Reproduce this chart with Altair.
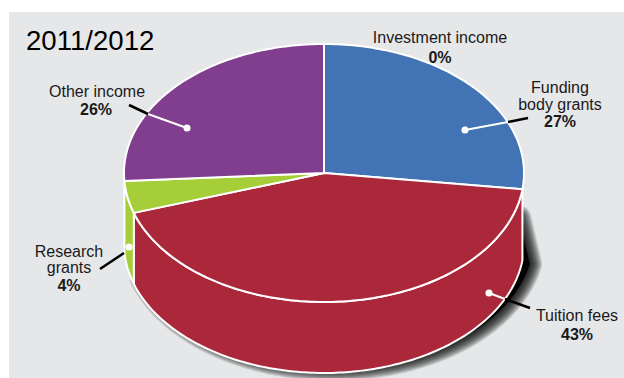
import math
import altair as alt
import pandas as pd

# Income shares for the year, clockwise from twelve o'clock
categories = ["Investment income", "Funding body grants", "Tuition fees", "Research grants", "Other income"]
shares = [0, 27, 43, 4, 26]
year_title = "2011/2012"

colors = {
    "Funding body grants": "#4173B5",
    "Tuition fees": "#AB283B",
    "Research grants": "#A6CE39",
    "Other income": "#813E8E",
}
PANEL = "#E6E7E9"
FONT = "Liberation Sans"

# Drawing geometry of the tilted disc
CX, CY, RX, RY, DEPTH = 324, 173, 200, 129, 71
W, H = 624, 378

xs = alt.X("x:Q", scale=alt.Scale(domain=[0, W], nice=False, zero=False), axis=None)
ys = alt.Y("y:Q", scale=alt.Scale(domain=[H, 0], nice=False, zero=False), axis=None)


def rim(a, drop=0.0, dx=0.0):
    t = math.radians(a)
    return CX + RX * math.sin(t) + dx, CY - RY * math.cos(t) + drop


def arc(a0, a1, drop=0.0, dx=0.0):
    n = max(2, int(abs(a1 - a0)) + 1)
    return [rim(a0 + (a1 - a0) * i / (n - 1), drop, dx) for i in range(n)]


def shape(points, fill=None, stroke="white", width=2.0, opacity=1.0):
    df = pd.DataFrame(points, columns=["x", "y"]).assign(i=range(len(points)))
    kw = {"fill": fill} if fill else {}
    return (
        alt.Chart(df)
        .mark_line(interpolate="linear-closed", stroke=stroke, strokeWidth=width,
                   strokeOpacity=opacity, strokeJoin="round", **kw)
        .encode(x=xs, y=ys, order="i:Q")
    )


# Angular extent of each slice
spans = {}
start = 0.0
for name, share in zip(categories, shares):
    spans[name] = (start, start + share * 3.6)
    start += share * 3.6

layers = []

panel = pd.DataFrame({"x": [9], "x2": [W], "y": [12], "y2": [H]})
layers.append(
    alt.Chart(panel).mark_rect(color=PANEL).encode(x=xs, x2="x2:Q", y=ys, y2="y2:Q")
)

# Soft drop shadow: stacked translucent outlines around the lower rim
wall_a0, wall_a1 = spans["Tuition fees"]
shadow_pts = [(CX, 218), (rim(wall_a0, 0, -4)[0], 218)] + arc(wall_a0 + 4, wall_a1, DEPTH - 5, 9)
for w in range(26, 0, -2):
    layers.append(shape(shadow_pts, stroke="black", width=w, opacity=0.12))
layers.append(shape(shadow_pts, fill="black", stroke="black", width=1))

# Side walls for the slices that face the viewer
for name in ["Tuition fees", "Research grants"]:
    a0, a1 = spans[name]
    pts = arc(a0, a1) + arc(a1, a0, DEPTH)
    layers.append(shape(pts, fill=colors[name]))

# Top faces
for name in ["Funding body grants", "Tuition fees", "Research grants", "Other income"]:
    a0, a1 = spans[name]
    layers.append(shape([(CX, CY)] + arc(a0, a1), fill=colors[name]))

# Leader lines from the slice markers out to the labels
white_leaders = [
    ("Funding body grants", (465, 130), (508, 122)),
    ("Tuition fees", (489, 293), (505, 299)),
    ("Other income", (187, 128), (148, 114)),
]
black_leaders = [
    ("Funding body grants", (508, 122), (528, 118)),
    ("Tuition fees", (505, 299), (530, 308)),
    ("Research grants", (124, 253), (100, 269)),
    ("Other income", (148, 114), (129, 105)),
]
markers = pd.DataFrame(
    [(465, 130), (489, 293), (129, 247), (187, 128)], columns=["x", "y"]
)


def leaders(rows, color, width):
    df = pd.DataFrame(
        [{"n": r[0], "x": r[1][0], "y": r[1][1], "x2": r[2][0], "y2": r[2][1]} for r in rows]
    )
    return (
        alt.Chart(df)
        .mark_rule(color=color, strokeWidth=width)
        .encode(x=xs, y=ys, x2="x2:Q", y2="y2:Q")
    )


layers.append(leaders(white_leaders, "white", 2))
layers.append(leaders(black_leaders, "black", 2.5))
layers.append(
    alt.Chart(markers).mark_point(filled=True, color="white", opacity=1, size=50).encode(x=xs, y=ys)
)

share_of = dict(zip(categories, shares))
names = pd.DataFrame(
    [
        ("Investment income", 440, 38),
        ("Funding", 560, 88),
        ("body grants", 560, 105),
        ("Tuition fees", 577, 316),
        ("Research", 69, 252),
        ("grants", 69, 268),
        ("Other income", 97, 92),
    ],
    columns=["t", "x", "y"],
)
values = pd.DataFrame(
    [
        (f"{share_of['Investment income']}%", 440, 58),
        (f"{share_of['Funding body grants']}%", 560, 122),
        (f"{share_of['Tuition fees']}%", 577, 335),
        (f"{share_of['Research grants']}%", 69, 286),
        (f"{share_of['Other income']}%", 96, 110),
    ],
    columns=["t", "x", "y"],
)

layers.append(
    alt.Chart(names)
    .mark_text(font=FONT, fontSize=16, color="#1a1a1a", align="center", baseline="middle")
    .encode(x=xs, y=ys, text="t:N")
)
layers.append(
    alt.Chart(values)
    .mark_text(font=FONT, fontSize=16, fontWeight="bold", color="#1a1a1a", align="center", baseline="middle")
    .encode(x=xs, y=ys, text="t:N")
)
layers.append(
    alt.Chart(pd.DataFrame({"t": [year_title], "x": [26], "y": [42]}))
    .mark_text(font=FONT, fontSize=27.6, color="black", align="left", baseline="middle")
    .encode(x=xs, y=ys, text="t:N")
)

chart = (
    alt.layer(*layers)
    .properties(width=W, height=H, padding=0, background="white",
                autosize=alt.AutoSizeParams(type="none"))
    .configure_view(stroke=None)
)

chart.save("out.html", embed_options={"renderer": "svg", "actions": False})
